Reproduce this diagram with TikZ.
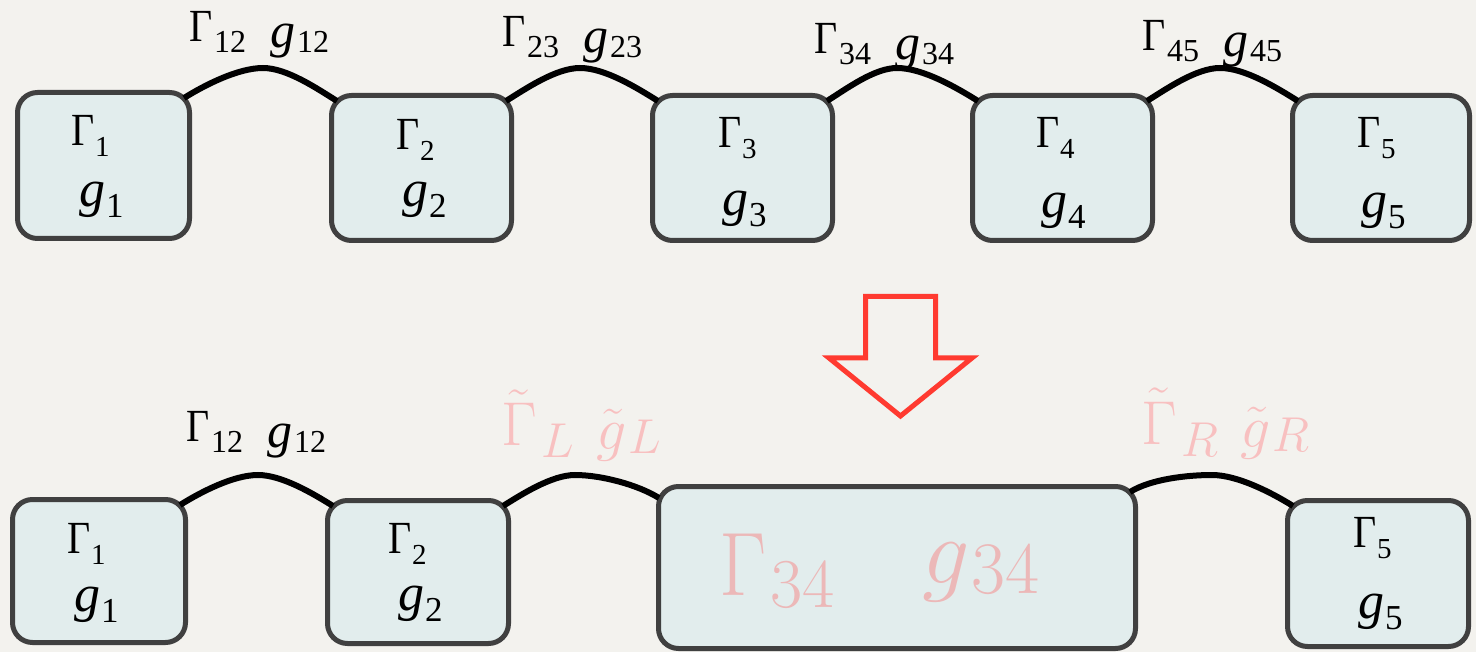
\RequirePackage{fix-cm}
\documentclass[tikz,border=0pt]{standalone}
\usepackage{fontspec}
\setmainfont{Liberation Serif}
\newfontfamily\lmfont{Latin Modern Roman}
\usetikzlibrary{calc}
\definecolor{bg}{RGB}{243,242,238}
\definecolor{boxfill}{RGB}{226,237,237}
\definecolor{boxline}{RGB}{64,64,64}
\definecolor{arrowred}{RGB}{255,58,48}
\definecolor{pinklab}{RGB}{248,192,192}
\definecolor{pinkbig}{RGB}{236,184,184}
\newcommand\bigG{\scalebox{1}[1.15]{\fontsize{40}{40}\selectfont Γ}}
\newcommand\Gbox[1]{\bigG\kern1pt\raisebox{-11pt}{\fontsize{29}{29}\selectfont #1}}
\newcommand\gbox[1]{{\fontsize{52}{52}\selectfont\itshape g}\kern1pt\raisebox{-11pt}{\fontsize{35}{35}\selectfont #1}}
\newcommand\lab[1]{\bigG\kern2pt\raisebox{-11pt}{\fontsize{32}{32}\selectfont #1}\hspace{24pt}\raisebox{-6pt}{{\fontsize{50}{50}\selectfont\itshape g}\kern2pt\raisebox{-5pt}{\fontsize{32}{32}\selectfont #1}}}
\newcommand\tlab[1]{{\fontsize{62}{62}\selectfont$\tilde\Gamma$}\kern5pt\raisebox{-12pt}{\fontsize{49}{49}\selectfont$#1$}\hspace{22pt}\raisebox{-3pt}{{\fontsize{60}{60}\selectfont$\tilde g$}\kern2pt\raisebox{-4pt}{\fontsize{49}{49}\selectfont$#1$}}}
\tikzset{
  cell/.style={draw=boxline, fill=boxfill, line width=5pt, rounded corners=20pt, inner sep=0pt},
  link/.style={draw=black, line width=6pt},
  txt/.style={anchor=base west, inner sep=0pt, outer sep=0pt},
  pinkt/.style={anchor=base west, inner sep=0pt, outer sep=0pt, text=pinklab, font=\lmfont},
  bigt/.style={anchor=base west, inner sep=0pt, outer sep=0pt, text=pinkbig, font=\lmfont},
  bump/.style={out=32,in=180,looseness=0.75},
  bumpd/.style={out=0,in=148,looseness=0.75},
}
\begin{document}
\begin{tikzpicture}[x=1pt,y=1pt]
\fill[bg] (0,0) rectangle (1476,-652);
\useasboundingbox (0,0) rectangle (1476,-652);
% top row boxes
\node[cell, minimum width=172pt, minimum height=146pt] (t1) at (103.5,-165.5) {};
\node[cell, minimum width=180pt, minimum height=145pt] (t2) at (421.5,-168) {};
\node[cell, minimum width=180pt, minimum height=145pt] (t3) at (742.5,-168) {};
\node[cell, minimum width=180pt, minimum height=145pt] (t4) at (1062.5,-168) {};
\node[cell, minimum width=177pt, minimum height=145pt] (t5) at (1381,-168) {};
% bottom row boxes
\node[cell, minimum width=173pt, minimum height=143pt] (u1) at (99,-571) {};
\node[cell, minimum width=181pt, minimum height=143pt] (u2) at (418,-572) {};
\node[cell, minimum width=477pt, minimum height=162pt] (big) at (897,-567.5) {};
\node[cell, minimum width=181pt, minimum height=146pt] (u5) at (1378,-573.5) {};
% top connectors
\coordinate (p1) at (263,-68);
\coordinate (p2) at (580,-68);
\coordinate (p3) at (897,-68);
\coordinate (p4) at (1220,-68);
\draw[link] ($(t1.north east)+(-8,-8)$) to[bump] (p1) to[bumpd] ($(t2.north west)+(8,-8)$);
\draw[link] ($(t2.north east)+(-8,-8)$) to[bump] (p2) to[bumpd] ($(t3.north west)+(8,-8)$);
\draw[link] ($(t3.north east)+(-8,-8)$) to[bump] (p3) to[bumpd] ($(t4.north west)+(8,-8)$);
\draw[link] ($(t4.north east)+(-8,-8)$) to[bump] (p4) to[bumpd] ($(t5.north west)+(8,-8)$);
% bottom connectors
\coordinate (q1) at (258,-475);
\coordinate (q2) at (575,-475);
\coordinate (q3) at (1212,-475);
\draw[link] ($(u1.north east)+(-8,-8)$) to[bump] (q1) to[bumpd] ($(u2.north west)+(8,-8)$);
\draw[link] ($(u2.north east)+(-8,-8)$) to[bump] (q2) to[bumpd] ($(big.north west)+(3,-14)$);
\draw[link] ($(big.north east)+(-8,-8)$) to[bump] (q3) to[bumpd] ($(u5.north west)+(8,-8)$);
% top labels
\node[txt] (l12) at (189,-42) {\lab{12}};
\node[txt] (l23) at (502,-47) {\lab{23}};
\node[txt] (l34) at (814,-54) {\lab{34}};
\node[txt] (l45) at (1142,-51) {\lab{45}};
% bottom labels
\node[txt] (m12) at (186,-441) {\lab{12}};
\node[pinkt] (ml) at (501,-446) {\tlab{L}};
\node[pinkt] (mr) at (1141,-444) {\tlab{R}};
% box texts top
\node[txt] (tG1) at (71,-146) {\Gbox{1}};
\node[txt] (tg1) at (79,-207) {\gbox{1}};
\node[txt] (tG2) at (396,-150) {\Gbox{2}};
\node[txt] (tg2) at (402,-207) {\gbox{2}};
\node[txt] (tG3) at (718,-148) {\Gbox{3}};
\node[txt] (tg3) at (722,-216) {\gbox{3}};
\node[txt] (tG4) at (1036,-148) {\Gbox{4}};
\node[txt] (tg4) at (1041,-218) {\gbox{4}};
\node[txt] (tG5) at (1357,-148) {\Gbox{5}};
\node[txt] (tg5) at (1361,-218) {\gbox{5}};
% box texts bottom
\node[txt] (uG1) at (67,-553) {\Gbox{1}};
\node[txt] (ug1) at (74,-611) {\gbox{1}};
\node[txt] (uG2) at (388,-553) {\Gbox{2}};
\node[txt] (ug2) at (398,-610) {\gbox{2}};
\node[txt] (uG5) at (1353,-547) {\Gbox{5}};
\node[txt] (ug5) at (1358,-618) {\gbox{5}};
% big box text
\node[bigt] (bG) at (719,-595) {\scalebox{1}[1.1]{\fontsize{82}{82}\selectfont$\Gamma$}\kern4pt\raisebox{-12pt}{\fontsize{70}{70}\selectfont 34}};
\node[bigt] (bg) at (922,-583) {{\fontsize{94}{94}\selectfont$g$}\kern2pt\raisebox{-10pt}{\fontsize{74}{74}\selectfont 34}};
% arrow
\draw[arrowred, line width=5pt, line join=miter] (865.5,-296.5) -- (935.5,-296.5) -- (935.5,-358) -- (972,-358) -- (900.5,-416) -- (829,-358) -- (865.5,-358) -- cycle;
\end{tikzpicture}
\end{document}
